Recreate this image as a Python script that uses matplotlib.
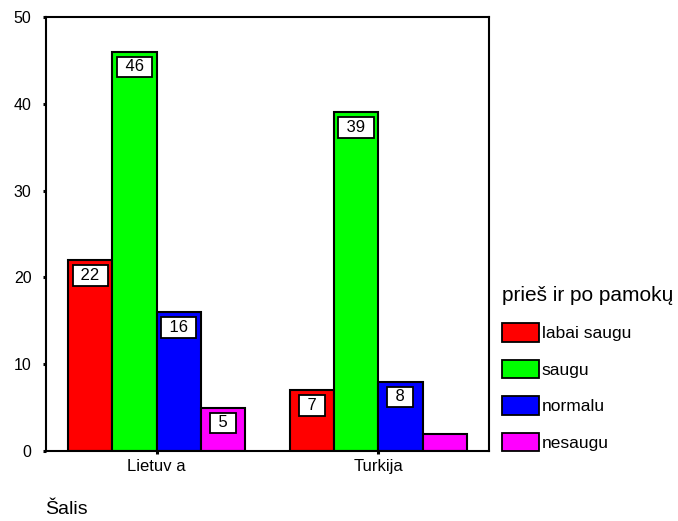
import matplotlib.pyplot as plt
import numpy as np
from matplotlib.patches import Patch

plt.rcParams['font.family'] = ['Liberation Sans', 'DejaVu Sans']

# Data
countries = ["Lietuv a", "Turkija"]
groups = ["labai saugu", "saugu", "normalu", "nesaugu"]
labai_saugu = [22, 7]
saugu = [46, 39]
normalu = [16, 8]
nesaugu = [5, 2]
colors = ["#ff0000", "#00ff00", "#0000ff", "#ff00ff"]

series = [labai_saugu, saugu, normalu, nesaugu]

fig = plt.figure(figsize=(6.78, 5.21), dpi=100)
ax = fig.add_axes([46 / 678, 1 - 451 / 521, (489 - 46) / 678, (451 - 17) / 521])

x = np.arange(len(countries))
width = 0.2
for i, vals in enumerate(series):
    pos = x + (i - 1.5) * width
    ax.bar(pos, vals, width=width, color=colors[i], edgecolor='black', linewidth=1.5)
    for px, v in zip(pos, vals):
        # the smallest bar has no room for a label
        if v < 4:
            continue
        ax.annotate("\u2004" + str(v) + "\u2004", (px, v), xytext=(0, -11),
                    textcoords='offset points', ha='center', va='center', fontsize=12,
                    bbox=dict(boxstyle='square,pad=0.17', fc='white', ec='black', lw=1.3))

ax.set_xlim(-0.5, 1.5)
ax.set_ylim(0, 50)
ax.set_yticks([0, 10, 20, 30, 40, 50])
ax.set_xticks(x)
ax.set_xticklabels(countries)
for s in ax.spines.values():
    s.set_linewidth(1.5)
ax.tick_params(axis='y', direction='out', length=2.5, width=2.2, pad=8, labelsize=11.5)
ax.tick_params(axis='x', direction='out', length=2, width=2.2, pad=4, labelsize=12)

fig.text(45 / 678, 1 - 514 / 521, "Šalis", fontsize=14, va='baseline', ha='left')

handles = [Patch(facecolor=c, edgecolor='black', linewidth=1.3) for c in colors]
leg = fig.legend(handles, groups, title="prieš ir po pamokų", loc='upper left',
                 bbox_to_anchor=(502 / 678, 1 - 286 / 521), frameon=False,
                 fontsize=12.5, title_fontsize=15, handlelength=2.15, handleheight=1.25,
                 handletextpad=0.15, labelspacing=1.05, borderpad=0.0, borderaxespad=0.0)
leg._legend_box.align = 'left'

fig.savefig("out.png", dpi=100)
